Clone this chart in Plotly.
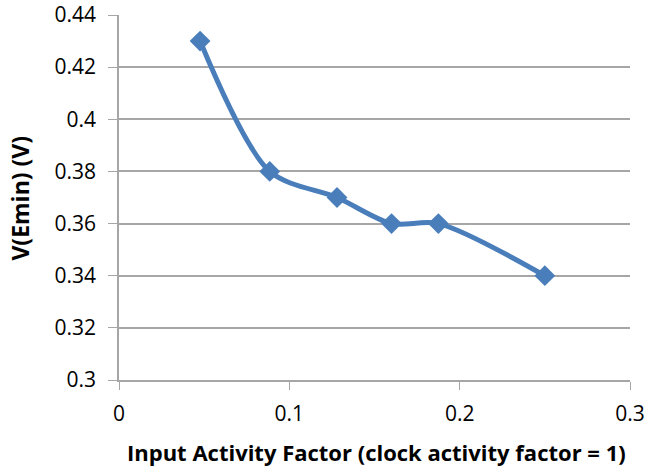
import plotly.graph_objects as go

# Input activity factor vs. minimum-energy supply voltage
activity_factor = [0.0476, 0.0885, 0.128, 0.160, 0.1875, 0.25]
v_emin = [0.43, 0.38, 0.37, 0.36, 0.36, 0.34]

x_ticks = [0, 0.1, 0.2, 0.3]
x_tick_text = ["0", "0.1", "0.2", "0.3"]
y_ticks = [0.3, 0.32, 0.34, 0.36, 0.38, 0.4, 0.42, 0.44]
y_tick_text = ["0.3", "0.32", "0.34", "0.36", "0.38", "0.4", "0.42", "0.44"]

x_title = "Input Activity Factor (clock activity factor = 1)"
y_title = "V(Emin) (V)"

line_color = "#4a7ebb"
grid_color = "#a6a6a6"
font_family = "Open Sans, Liberation Sans, sans-serif"

fig = go.Figure(
    go.Scatter(
        x=activity_factor,
        y=v_emin,
        mode="lines+markers",
        line=dict(color=line_color, width=5, shape="spline", smoothing=0.85),
        marker=dict(symbol="diamond", size=16, color=line_color),
        showlegend=False,
    )
)

fig.update_layout(
    width=651,
    height=470,
    margin=dict(l=119, r=21, t=15, b=90),
    paper_bgcolor="white",
    plot_bgcolor="white",
    font=dict(family=font_family, size=21, color="black"),
)

fig.update_xaxes(
    range=[0, 0.3],
    tickvals=x_ticks,
    ticktext=x_tick_text,
    automargin=False,
    showgrid=False,
    zeroline=False,
    showline=True,
    linecolor=grid_color,
    linewidth=1.5,
    ticks="outside",
    ticklen=8,
    tickcolor=grid_color,
    tickfont=dict(size=21),
    ticklabelstandoff=6,
)

fig.update_yaxes(
    range=[0.3, 0.44],
    tickvals=y_ticks,
    ticktext=y_tick_text,
    automargin=False,
    showgrid=True,
    gridcolor=grid_color,
    gridwidth=1.5,
    zeroline=False,
    showline=True,
    linecolor=grid_color,
    linewidth=1.5,
    ticks="outside",
    ticklen=9,
    tickcolor=grid_color,
    tickfont=dict(size=21),
    ticklabelstandoff=8,
)

# Axis titles placed in paper pixels below / left of the plotting area
fig.add_annotation(
    text=f"<b>{x_title}</b>",
    xref="paper", yref="paper",
    x=0.504, y=0, yshift=-72,
    xanchor="center", yanchor="middle",
    showarrow=False,
    font=dict(size=22),
)
fig.add_annotation(
    text=f"<b>{y_title}</b>",
    xref="paper", yref="paper",
    x=0, xshift=-99, y=0.497,
    xanchor="center", yanchor="middle",
    textangle=-90,
    showarrow=False,
    font=dict(size=23),
)

fig.write_html("out.html")
